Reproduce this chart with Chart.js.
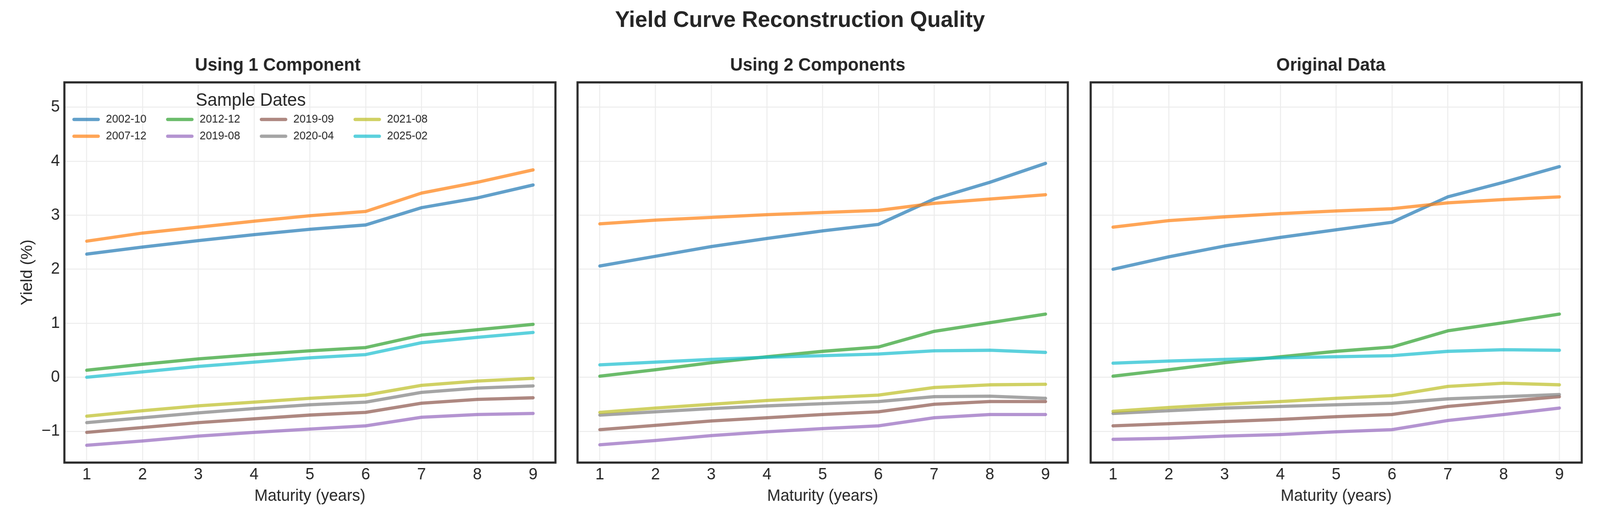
<!DOCTYPE html>
<html>
<head>
<meta charset="utf-8">
<title>Yield Curve Reconstruction Quality</title>
<script src="https://cdn.jsdelivr.net/npm/chart.js@4.4.1/dist/chart.umd.min.js"></script>
<style>
  html, body { margin: 0; padding: 0; background: #ffffff; overflow: hidden; }
  #page { position: relative; width: 4200px; height: 1350px; overflow: hidden; transform-origin: 0 0; }
  #suptitle {
    position: absolute; left: 0; top: 20px; width: 4200px;
    text-align: center; font: bold 58px/58px "Liberation Sans", Arial, sans-serif;
    color: #262626; z-index: 2;
  }
  canvas { position: absolute; top: 0; }
</style>
</head>
<body>
<div id="page">
  <div id="suptitle">Yield Curve Reconstruction Quality</div>
  <canvas id="panel0" width="1490" height="1350" style="left:0px"></canvas>
  <canvas id="panel1" width="1345" height="1350" style="left:1490px"></canvas>
  <canvas id="panel2" width="1365" height="1350" style="left:2835px"></canvas>
</div>
<script>
// ---- data ----
const maturities = [1, 2, 3, 4, 5, 6, 7, 8, 9];
const yTicks = [-1, 0, 1, 2, 3, 4, 5];
const sampleDates = ['2002-10', '2007-12', '2012-12', '2019-08', '2019-09', '2020-04', '2021-08', '2025-02'];
const panelTitles = ['Using 1 Component', 'Using 2 Components', 'Original Data'];

// one row per sample date, same order as sampleDates
const oneComponentYields = [
  [2.28, 2.41, 2.53, 2.64, 2.74, 2.82, 3.14, 3.32, 3.56],
  [2.52, 2.67, 2.78, 2.89, 2.99, 3.07, 3.41, 3.61, 3.84],
  [0.13, 0.24, 0.34, 0.42, 0.49, 0.55, 0.78, 0.88, 0.98],
  [-1.26, -1.18, -1.09, -1.02, -0.96, -0.90, -0.74, -0.69, -0.67],
  [-1.02, -0.93, -0.84, -0.77, -0.70, -0.65, -0.48, -0.41, -0.38],
  [-0.84, -0.75, -0.66, -0.58, -0.51, -0.46, -0.28, -0.20, -0.16],
  [-0.72, -0.62, -0.53, -0.46, -0.39, -0.33, -0.15, -0.07, -0.02],
  [0.00, 0.10, 0.20, 0.28, 0.36, 0.42, 0.64, 0.74, 0.83]
];
const twoComponentYields = [
  [2.06, 2.24, 2.42, 2.57, 2.71, 2.83, 3.30, 3.61, 3.96],
  [2.84, 2.91, 2.96, 3.01, 3.05, 3.09, 3.22, 3.30, 3.38],
  [0.02, 0.14, 0.27, 0.38, 0.48, 0.56, 0.85, 1.01, 1.17],
  [-1.25, -1.17, -1.08, -1.01, -0.95, -0.90, -0.75, -0.69, -0.69],
  [-0.97, -0.89, -0.81, -0.75, -0.69, -0.64, -0.50, -0.45, -0.45],
  [-0.70, -0.64, -0.58, -0.53, -0.49, -0.45, -0.36, -0.35, -0.39],
  [-0.65, -0.57, -0.50, -0.43, -0.38, -0.33, -0.19, -0.14, -0.13],
  [0.23, 0.28, 0.33, 0.37, 0.40, 0.43, 0.49, 0.50, 0.46]
];
const originalYields = [
  [2.00, 2.23, 2.43, 2.59, 2.73, 2.87, 3.34, 3.61, 3.90],
  [2.78, 2.90, 2.97, 3.03, 3.08, 3.12, 3.23, 3.29, 3.34],
  [0.02, 0.14, 0.27, 0.38, 0.48, 0.56, 0.86, 1.01, 1.17],
  [-1.15, -1.13, -1.09, -1.06, -1.01, -0.97, -0.80, -0.69, -0.57],
  [-0.90, -0.86, -0.82, -0.78, -0.73, -0.69, -0.54, -0.45, -0.36],
  [-0.67, -0.62, -0.57, -0.54, -0.51, -0.48, -0.40, -0.36, -0.32],
  [-0.63, -0.56, -0.50, -0.45, -0.39, -0.34, -0.17, -0.11, -0.14],
  [0.26, 0.30, 0.33, 0.36, 0.38, 0.40, 0.48, 0.51, 0.50]
];
const panelYields = [oneComponentYields, twoComponentYields, originalYields];

// ---- styling ----
const FONT = '"Liberation Sans", Arial, sans-serif';
const TEXT = '#262626';
const GRID = '#ececec';
const lineColors = [
  'rgba(31,119,180,0.7)', 'rgba(255,127,14,0.7)', 'rgba(44,160,44,0.7)', 'rgba(148,103,189,0.7)',
  'rgba(140,86,75,0.7)', 'rgba(127,127,127,0.7)', 'rgba(188,189,34,0.7)', 'rgba(23,190,207,0.7)'
];
const yAxisWidth = [169, 26, 28];
const rightPad = [32, 32, 48];

// the window may be narrower than 4200px, so fit the figure to it
const page = document.getElementById('page');
const sx = window.innerWidth / 4200, sy = window.innerHeight / 1350;
page.style.transform = 'scale(' + sx + ',' + sy + ')';

// frame around the plot area (all four spines)
const framePlugin = {
  id: 'frame',
  afterDraw(chart) {
    const a = chart.chartArea;
    const ctx = chart.ctx;
    ctx.save();
    ctx.strokeStyle = '#2b2b2b';
    ctx.lineWidth = 5.5;
    ctx.strokeRect(a.left, a.top, a.right - a.left, a.bottom - a.top);
    ctx.restore();
  }
};

// legend drawn inside the first panel, 4 columns filled top to bottom
const insideLegend = {
  id: 'insideLegend',
  afterDraw(chart, args, opts) {
    if (!opts.show) return;
    const a = chart.chartArea;
    const ctx = chart.ctx;
    const items = chart.data.datasets;
    const rows = 2, colPitch = 246, rowPitch = 43, handle = 64, gap = 20;
    const x0 = a.left + 25, y0 = a.top + 95;
    ctx.save();
    ctx.font = '29px ' + FONT;
    ctx.textBaseline = 'middle';
    ctx.textAlign = 'left';
    let rightEdge = x0;
    items.forEach((ds, i) => {
      const col = Math.floor(i / rows), row = i % rows;
      const x = x0 + col * colPitch, y = y0 + row * rowPitch;
      ctx.strokeStyle = ds.borderColor;
      ctx.lineWidth = 8.3;
      ctx.lineCap = 'round';
      ctx.beginPath();
      ctx.moveTo(x, y);
      ctx.lineTo(x + handle, y);
      ctx.stroke();
      ctx.fillStyle = TEXT;
      ctx.fillText(ds.label, x + handle + gap, y);
      rightEdge = Math.max(rightEdge, x + handle + gap + ctx.measureText(ds.label).width);
    });
    ctx.font = '46px ' + FONT;
    ctx.textAlign = 'center';
    ctx.fillStyle = TEXT;
    ctx.fillText('Sample Dates', (x0 + rightEdge) / 2, a.top + 47);
    ctx.restore();
  }
};

function buildPanel(p) {
  const ctx = document.getElementById('panel' + p).getContext('2d');
  const datasets = sampleDates.map((date, j) => ({
    label: date,
    data: maturities.map((m, k) => ({ x: m, y: panelYields[p][j][k] })),
    borderColor: lineColors[j],
    borderWidth: 8.3,
    borderCapStyle: 'round',
    borderJoinStyle: 'round',
    pointRadius: 0,
    tension: 0,
    fill: false,
    order: -j
  }));

  return new Chart(ctx, {
    type: 'line',
    data: { datasets },
    plugins: [framePlugin, insideLegend],
    options: {
      responsive: false,
      devicePixelRatio: 1,
      animation: false,
      events: [],
      layout: { padding: { left: 0, right: rightPad[p], top: 0, bottom: 0 } },
      plugins: {
        legend: { display: false },
        tooltip: { enabled: false },
        insideLegend: { show: p === 0 },
        title: {
          display: true,
          text: panelTitles[p],
          color: TEXT,
          font: { family: FONT, size: 46, weight: 'bold' },
          padding: { top: 140.4, bottom: 15.4 }
        }
      },
      scales: {
        x: {
          type: 'linear',
          min: 0.6,
          max: 9.4,
          afterBuildTicks: (s) => { s.ticks = maturities.map(v => ({ value: v })); },
          afterFit: (s) => { s.height = 165; },
          grid: { color: GRID, lineWidth: 2.5, drawTicks: false },
          border: { display: false },
          ticks: { color: TEXT, font: { family: FONT, size: 42 }, padding: 6, maxRotation: 0, autoSkip: false },
          title: {
            display: true,
            text: 'Maturity (years)',
            color: TEXT,
            font: { family: FONT, size: 42 },
            padding: { top: 0, bottom: 53.8 }
          }
        },
        y: {
          type: 'linear',
          min: -1.58,
          max: 5.46,
          afterBuildTicks: (s) => { s.ticks = yTicks.map(v => ({ value: v })); },
          afterFit: (s) => { s.width = yAxisWidth[p]; },
          grid: { color: GRID, lineWidth: 2.5, drawTicks: false },
          border: { display: false },
          ticks: {
            display: p === 0,
            color: TEXT,
            font: { family: FONT, size: 42 },
            padding: 12,
            callback: (v) => (v < 0 ? '\u2212' + Math.abs(v) : String(v))
          },
          title: {
            display: p === 0,
            text: 'Yield (%)',
            color: TEXT,
            font: { family: FONT, size: 42 },
            padding: { top: 46.8, bottom: 0 }
          }
        }
      }
    }
  });
}

panelTitles.forEach((t, p) => buildPanel(p));
</script>
</body>
</html>
